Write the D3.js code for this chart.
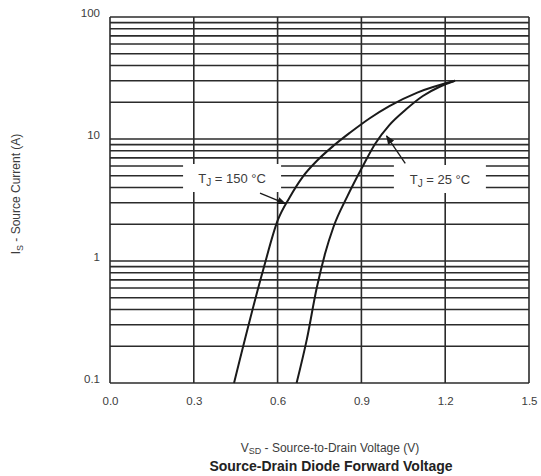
<!DOCTYPE html>
<html><head><meta charset="utf-8">
<script src="https://cdn.jsdelivr.net/npm/d3@7/dist/d3.min.js"></script>
<style>body{margin:0;background:#fff}svg{display:block}</style>
</head><body>
<svg id="c" width="541" height="476"></svg>
<script>
// ---- data ----
const xTicks = [0.0, 0.3, 0.6, 0.9, 1.2, 1.5];
const xTickLabels = ["0.0", "0.3", "0.6", "0.9", "1.2", "1.5"];
const yTicks = [0.1, 1, 10, 100];
const yTickLabels = ["0.1", "1", "10", "100"];
const vsd150 = [0.444, 0.548, 0.601, 0.644, 0.690, 0.740, 0.800, 0.860, 0.930, 1.000, 1.100, 1.235];
const is150  = [0.1,   0.84,  2.17,  3.35,  4.9,   6.6,   8.8,   11.3,  14.8,  18.6,  24.0,  30.0];
const vsd25 = [0.668, 0.705, 0.740, 0.770, 0.800, 0.850, 0.900, 0.950, 1.000, 1.060, 1.120, 1.180, 1.235];
const is25  = [0.1,   0.23,  0.6,   1.15,  1.9,   3.4,   5.7,   9.2,   13.0,  17.5,  22.5,  26.8,  30.0];

const svg = d3.select("#c");
const x = d3.scaleLinear().domain([0, 1.5]).range([110, 529]);
const y = d3.scaleLog().domain([0.1, 100]).range([383, 17]);
const ink = "#2b2b2b", txt = "#3c3c3c";
const font = "Liberation Sans, Arial, sans-serif";

// minor grid values
const grid = [];
for (let d = 0.1; d < 100; d *= 10) for (let k = 1; k <= 10; k++) grid.push(+(d * k).toPrecision(3));
const gy = Array.from(new Set(grid));

const g = svg.append("g");
g.selectAll("line.h").data(gy).join("line")
  .attr("x1", x(0)).attr("x2", x(1.5))
  .attr("y1", d => y(d)).attr("y2", d => y(d))
  .attr("stroke", ink).attr("stroke-width", 1.6);
g.selectAll("line.v").data(xTicks).join("line")
  .attr("y1", y(0.1)).attr("y2", y(100))
  .attr("x1", d => x(d)).attr("x2", d => x(d))
  .attr("stroke", ink).attr("stroke-width", 1.6);

// axes (labels only)
const xa = d3.axisBottom(x).tickValues(xTicks).tickFormat((d, i) => xTickLabels[i]).tickSize(0).tickPadding(14);
svg.append("g").attr("transform", `translate(0,${y(0.1)})`).call(xa)
  .call(s => s.select(".domain").remove())
  .selectAll("text").attr("font-family", font).attr("font-size", 11.5).attr("fill", txt);
const ya = d3.axisLeft(y).tickValues(yTicks).tickFormat((d, i) => yTickLabels[i]).tickSize(0).tickPadding(10);
svg.append("g").attr("transform", `translate(${x(0)},0)`).call(ya)
  .call(s => s.select(".domain").remove())
  .selectAll("text").attr("font-family", font).attr("font-size", 11.5).attr("fill", txt).attr("dy", "-0.05em");

// curves
const line = d3.line().x(d => x(d[0])).y(d => y(d[1])).curve(d3.curveMonotoneX);
svg.append("path").datum(vsd150.map((v, i) => [v, is150[i]])).attr("d", line)
  .attr("fill", "none").attr("stroke", "#1a1a1a").attr("stroke-width", 2);
svg.append("path").datum(vsd25.map((v, i) => [v, is25[i]])).attr("d", line)
  .attr("fill", "none").attr("stroke", "#1a1a1a").attr("stroke-width", 2);

// annotations
svg.append("defs").append("marker").attr("id", "ah").attr("viewBox", "0 0 10 10")
  .attr("refX", 9).attr("refY", 5).attr("markerWidth", 7).attr("markerHeight", 7).attr("orient", "auto")
  .append("path").attr("d", "M0,1 L10,5 L0,9 Z").attr("fill", "#1a1a1a");

function label(cx, cy, num, w) {
  svg.append("rect").attr("x", x(cx) - w / 2).attr("y", y(cy) - 14).attr("width", w).attr("height", 28).attr("fill", "#fff");
  const t = svg.append("text").attr("x", x(cx)).attr("y", y(cy) + 5).attr("text-anchor", "middle")
    .attr("font-family", font).attr("font-size", 13).attr("fill", txt);
  t.append("tspan").text("T");
  t.append("tspan").attr("font-size", 10).attr("dy", 3).text("J");
  t.append("tspan").attr("dy", -3).text(" = " + num + " °C");
}
label(0.437, 4.79, "150", 98);
label(1.181, 4.7, "25", 92);

function arrow(v1, i1, v2, i2) {
  svg.append("line").attr("x1", x(v1)).attr("y1", y(i1)).attr("x2", x(v2)).attr("y2", y(i2))
    .attr("stroke", "#1a1a1a").attr("stroke-width", 1.3).attr("marker-end", "url(#ah)");
}
arrow(0.537, 3.6, 0.628, 2.95);
arrow(1.057, 6.3, 0.99, 10.6);

// titles
const yt = svg.append("text").attr("transform", `translate(20,${(y(0.1) + y(100)) / 2 - 6}) rotate(-90)`)
  .attr("text-anchor", "middle").attr("font-family", font).attr("font-size", 12).attr("fill", txt);
yt.append("tspan").text("I");
yt.append("tspan").attr("font-size", 9).attr("dy", 3).text("S");
yt.append("tspan").attr("dy", -3).text(" - Source Current (A)");

const xt = svg.append("text").attr("x", 330).attr("y", 452).attr("text-anchor", "middle")
  .attr("font-family", font).attr("font-size", 12).attr("fill", txt);
xt.append("tspan").text("V");
xt.append("tspan").attr("font-size", 9).attr("dy", 2).text("SD");
xt.append("tspan").attr("dy", -2).text(" - Source-to-Drain Voltage (V)");

svg.append("text").attr("x", 331).attr("y", 471).attr("text-anchor", "middle")
  .attr("font-family", font).attr("font-size", 14).attr("font-weight", "bold").attr("fill", "#222")
  .text("Source-Drain Diode Forward Voltage");
</script>
</body></html>
